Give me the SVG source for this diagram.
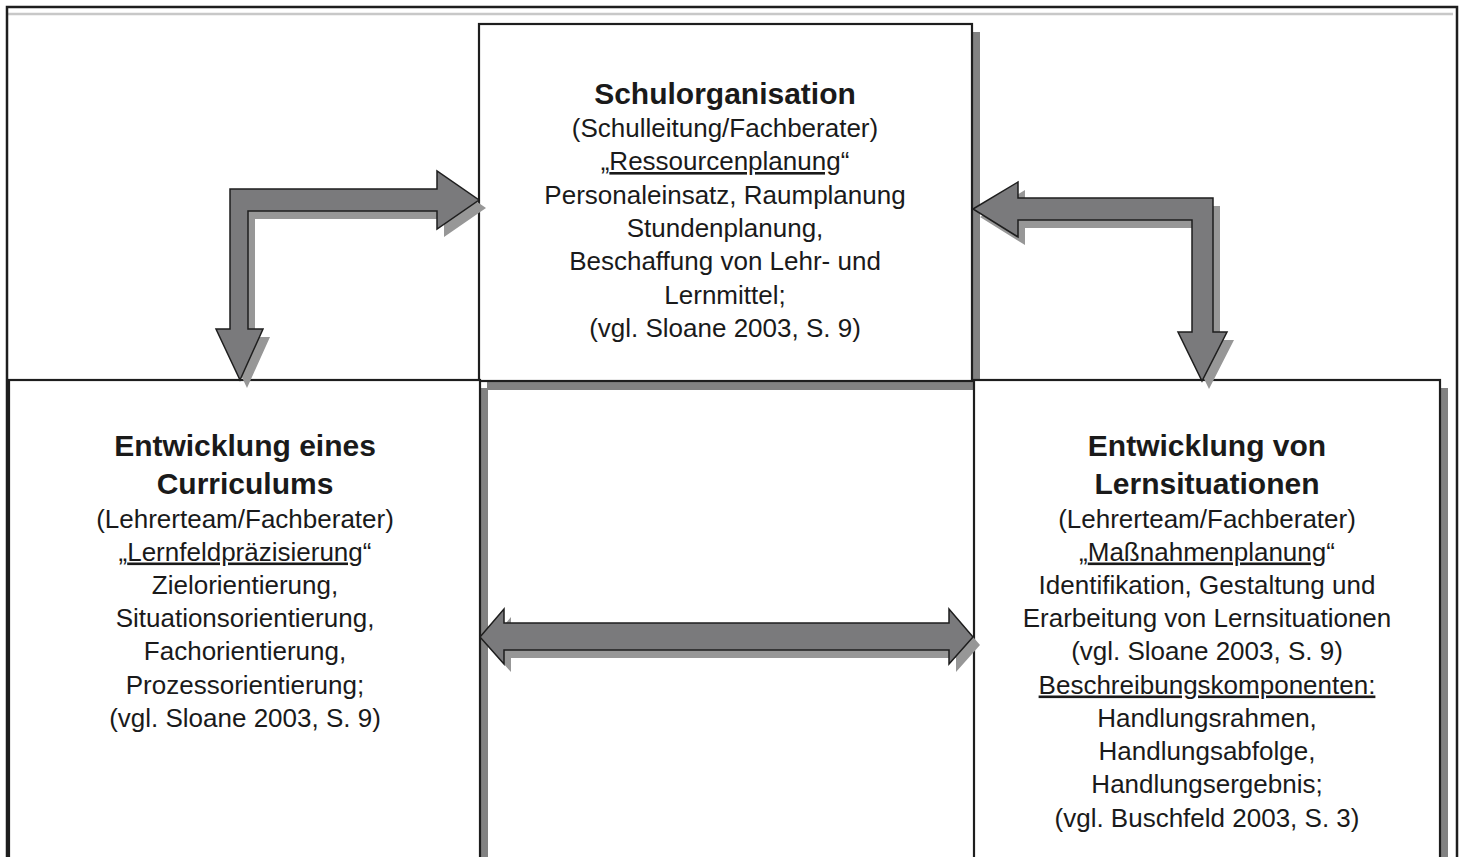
<svg xmlns="http://www.w3.org/2000/svg" width="1461" height="857" viewBox="0 0 1461 857">
<style>
.box{fill:#fff;stroke:#1e1e1e;stroke-width:2.2}
.bshadow{fill:#828282}
.arrow{fill:#7a7a7c;stroke:#1e1e1e;stroke-width:1.5;stroke-linejoin:miter}
.ashadow{fill:#979797}
text{font-family:"Liberation Sans",Arial,sans-serif;fill:#1a1a1a;text-anchor:middle}
.t{font-size:26px}
.b{font-size:30px;font-weight:bold}
.u{text-decoration:underline}
</style>
<rect x="0" y="0" width="1461" height="857" fill="#fff"/>
<line x1="8" y1="14" x2="1453" y2="14" stroke="#c8c8c8" stroke-width="2.5"/>

<g id="node-schulorganisation">
<rect class="bshadow" x="487" y="32" width="493" height="358"/>
<rect class="box" x="479" y="24" width="493" height="357"/>
<text class="b" x="725" y="104">Schulorganisation</text>
<text class="t" x="725" y="137">(Schulleitung/Fachberater)</text>
<text class="t" x="725" y="170">„<tspan class="u">Ressourcenplanung</tspan>“</text>
<text class="t" x="725" y="203.5">Personaleinsatz, Raumplanung</text>
<text class="t" x="725" y="237">Stundenplanung,</text>
<text class="t" x="725" y="270">Beschaffung von Lehr- und</text>
<text class="t" x="725" y="303.5">Lernmittel;</text>
<text class="t" x="725" y="337">(vgl. Sloane 2003, S. 9)</text>
</g>

<g id="node-curriculum">
<rect class="bshadow" x="17" y="388" width="471" height="500"/>
<rect class="box" x="9" y="380" width="471" height="500"/>
<text class="b" x="245" y="455.5">Entwicklung eines</text>
<text class="b" x="245" y="493.5">Curriculums</text>
<text class="t" x="245" y="527.5">(Lehrerteam/Fachberater)</text>
<text class="t" x="245" y="560.5">„<tspan class="u">Lernfeldpräzisierung</tspan>“</text>
<text class="t" x="245" y="593.5">Zielorientierung,</text>
<text class="t" x="245" y="627">Situationsorientierung,</text>
<text class="t" x="245" y="660">Fachorientierung,</text>
<text class="t" x="245" y="693.5">Prozessorientierung;</text>
<text class="t" x="245" y="726.5">(vgl. Sloane 2003, S. 9)</text>
</g>

<g id="node-lernsituationen">
<rect class="bshadow" x="982" y="388" width="466" height="500"/>
<rect class="box" x="974" y="380" width="466" height="500"/>
<text class="b" x="1207" y="455.5">Entwicklung von</text>
<text class="b" x="1207" y="493.5">Lernsituationen</text>
<text class="t" x="1207" y="527.5">(Lehrerteam/Fachberater)</text>
<text class="t" x="1207" y="560.5">„<tspan class="u">Maßnahmenplanung</tspan>“</text>
<text class="t" x="1207" y="593.5">Identifikation, Gestaltung und</text>
<text class="t" x="1207" y="627">Erarbeitung von Lernsituationen</text>
<text class="t" x="1207" y="660">(vgl. Sloane 2003, S. 9)</text>
<text class="t" x="1207" y="693.5"><tspan class="u">Beschreibungskomponenten:</tspan></text>
<text class="t" x="1207" y="726.5">Handlungsrahmen,</text>
<text class="t" x="1207" y="760">Handlungsabfolge,</text>
<text class="t" x="1207" y="793">Handlungsergebnis;</text>
<text class="t" x="1207" y="826.5">(vgl. Buschfeld 2003, S. 3)</text>
</g>

<g id="connectors">
<defs>
<polygon id="a1" points="230,189 437,189 437,171 479,200 437,229 437,211 248,211 248,329 263,329 240,380 216,329 230,329"/>
<polygon id="a2" points="973,209 1018,182 1018,198 1213,198 1213,332 1227,332 1202,381 1178,332 1192,332 1192,220 1018,220 1018,237"/>
<polygon id="a3" points="480,637 504,609 504,623 949,623 949,609 973,637 949,664 949,650 504,650 504,664"/>
</defs>
<use href="#a1" class="ashadow" transform="translate(7,8)"/>
<use href="#a1" class="arrow"/>
<use href="#a2" class="ashadow" transform="translate(7,8)"/>
<use href="#a2" class="arrow"/>
<use href="#a3" class="ashadow" transform="translate(7,8)"/>
<use href="#a3" class="arrow"/>
</g>

<path d="M7,860 V7 H1457 V860" fill="none" stroke="#1e1e1e" stroke-width="2.5"/>
</svg>
